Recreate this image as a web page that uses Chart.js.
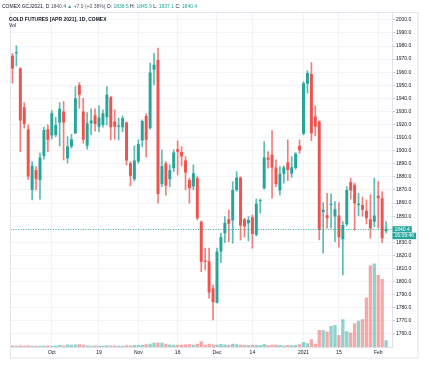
<!DOCTYPE html>
<html>
<head>
<meta charset="utf-8">
<title>GOLD FUTURES [APR 2021], 1D, COMEX</title>
<script src="https://cdn.jsdelivr.net/npm/chart.js@4.4.0/dist/chart.umd.min.js"></script>
<style>
  html, body { margin: 0; padding: 0; background: #fff; }
  #wrap { position: relative; width: 430px; height: 371px; overflow: hidden; }
  #chart { position: absolute; left: 0; top: 0; }
  .hdr { position: absolute; font-family: "Liberation Sans", Arial, sans-serif; font-size: 5px; line-height: 6px; color: #131722; white-space: nowrap; }
  .up { color: #26a69a; }
  .dim { color: #50535e; }
  #line1 { left: 2px; top: 3px; }
  #line2 { left: 9px; top: 16px; font-weight: bold; }
  #line3 { left: 9px; top: 22px; }
</style>
</head>
<body>
<div id="wrap">
  <canvas id="chart" width="430" height="371"></canvas>
  <div class="hdr" id="line1">COMEX:GCJ2021, D <span class="dim">1840.4</span> <span class="up">&#9650;</span> <span class="dim">+7.0 (+0.38%)</span> O: <span class="up">1838.5</span> H: <span class="up">1845.9</span> L: <span class="up">1837.1</span> C: <span class="up">1840.4</span></div>
  <div class="hdr" id="line2">GOLD FUTURES [APR 2021], 1D, COMEX</div>
  <div class="hdr" id="line3">Vol</div>
</div>
<script>
// daily sessions, Sep 17 2020 - Feb 3 2021
const dates = [
  '2020-09-17','2020-09-18','2020-09-21','2020-09-22','2020-09-23','2020-09-24','2020-09-25','2020-09-28','2020-09-29','2020-09-30',
  '2020-10-01','2020-10-02','2020-10-05','2020-10-06','2020-10-07','2020-10-08','2020-10-09','2020-10-12','2020-10-13','2020-10-14',
  '2020-10-15','2020-10-16','2020-10-19','2020-10-20','2020-10-21','2020-10-22','2020-10-23','2020-10-26','2020-10-27','2020-10-28',
  '2020-10-29','2020-10-30','2020-11-02','2020-11-03','2020-11-04','2020-11-05','2020-11-06','2020-11-09','2020-11-10','2020-11-11',
  '2020-11-12','2020-11-13','2020-11-16','2020-11-17','2020-11-18','2020-11-19','2020-11-20','2020-11-23','2020-11-24','2020-11-25',
  '2020-11-27','2020-11-30','2020-12-01','2020-12-02','2020-12-03','2020-12-04','2020-12-07','2020-12-08','2020-12-09','2020-12-10',
  '2020-12-11','2020-12-14','2020-12-15','2020-12-16','2020-12-17','2020-12-18','2020-12-21','2020-12-22','2020-12-23','2020-12-24',
  '2020-12-28','2020-12-29','2020-12-30','2020-12-31','2021-01-04','2021-01-05','2021-01-06','2021-01-07','2021-01-08','2021-01-11',
  '2021-01-12','2021-01-13','2021-01-14','2021-01-15','2021-01-19','2021-01-20','2021-01-21','2021-01-22','2021-01-25','2021-01-26',
  '2021-01-27','2021-01-28','2021-01-29','2021-02-01','2021-02-02','2021-02-03'
];

const open = [
  1972.5,1974.5,1962.8,1933.3,1916.4,1870.0,1885.3,1877.7,1896.0,1916.4,
  1911.6,1912.1,1921.5,1929.9,1894.3,1903.2,1913.4,1950.3,1929.9,1903.7,
  1921.0,1927.1,1918.4,1919.7,1925.6,1940.9,1922.3,1918.4,1918.0,1921.5,
  1890.5,1878.2,1891.7,1907.8,1926.6,1917.2,1961.8,1969.4,1874.6,1890.5,
  1878.2,1886.6,1901.2,1899.1,1892.5,1877.7,1872.6,1879.0,1845.8,1816.0,
  1815.3,1794.9,1783.9,1822.9,1837.0,1847.6,1846.6,1870.0,1879.5,1847.6,
  1844.6,1849.2,1835.7,1861.6,1871.4,1894.8,1897.0,1887.1,1869.5,1882.3,
  1890.9,1882.3,1886.7,1903.7,1912.9,1951.1,1958.7,1926.1,1922.3,1853.2,
  1850.7,1858.6,1849.7,1850.4,1832.3,1843.8,1875.9,1873.9,1858.6,1858.6,
  1854.2,1847.6,1845.8,1865.5,1863.7,1838.5
];
const high = [
  1974.5,1980.1,1963.5,1936.8,1919.7,1891.7,1887.9,1898.1,1918.0,1919.7,
  1930.7,1925.6,1936.8,1937.6,1910.8,1912.6,1949.0,1952.1,1940.1,1929.1,
  1932.0,1932.0,1934.5,1931.2,1949.0,1941.5,1931.2,1924.9,1926.6,1922.0,
  1891.7,1903.7,1908.3,1923.6,1928.2,1966.9,1974.5,1978.4,1900.6,1891.7,
  1889.2,1900.6,1907.5,1903.2,1895.5,1879.0,1889.2,1880.2,1846.5,1825.5,
  1825.5,1797.4,1825.5,1837.0,1849.7,1854.8,1876.4,1884.0,1880.0,1848.4,
  1849.7,1851.0,1863.0,1863.0,1907.0,1899.3,1915.4,1893.0,1887.9,1888.4,
  1908.3,1895.5,1898.6,1908.3,1952.8,1961.3,1967.4,1934.3,1923.0,1860.4,
  1867.5,1867.0,1861.1,1860.4,1845.8,1872.6,1879.0,1875.2,1867.5,1864.5,
  1862.4,1866.2,1879.0,1876.4,1868.8,1845.9
];
const low = [
  1951.6,1964.8,1899.3,1917.2,1878.0,1862.4,1870.0,1863.0,1893.5,1899.3,
  1909.0,1910.8,1903.7,1893.0,1890.5,1901.9,1912.9,1932.5,1905.7,1901.2,
  1912.0,1915.0,1914.5,1918.0,1919.7,1908.3,1908.8,1908.3,1914.6,1889.0,
  1873.1,1877.0,1890.5,1902.9,1895.0,1916.4,1950.3,1859.9,1872.6,1866.0,
  1872.6,1884.0,1881.5,1888.4,1870.0,1859.9,1870.0,1847.1,1807.6,1808.9,
  1787.3,1770.7,1783.5,1814.5,1829.8,1830.5,1829.3,1868.8,1831.8,1833.9,
  1831.0,1825.5,1834.9,1852.3,1870.6,1886.7,1863.7,1872.6,1866.0,1875.2,
  1877.2,1879.7,1885.8,1898.0,1912.1,1944.0,1907.7,1911.3,1831.8,1821.7,
  1840.8,1840.8,1830.5,1826.3,1805.1,1842.5,1863.0,1839.5,1850.2,1849.7,
  1844.1,1833.1,1842.0,1840.8,1829.8,1837.1
];
const close = [
  1962.8,1975.5,1923.0,1920.5,1880.2,1888.6,1878.2,1894.8,1915.9,1908.3,
  1928.7,1919.7,1932.0,1921.5,1903.2,1908.8,1940.1,1942.7,1908.3,1921.0,
  1923.0,1920.5,1925.3,1928.7,1942.7,1918.0,1918.4,1919.2,1924.9,1892.5,
  1880.8,1892.5,1905.2,1922.8,1908.3,1959.7,1965.6,1867.0,1888.4,1873.3,
  1885.3,1898.6,1899.3,1895.5,1883.3,1871.3,1882.8,1848.4,1815.2,1815.0,
  1791.6,1784.2,1822.9,1833.9,1845.0,1844.1,1870.0,1879.5,1842.8,1842.0,
  1847.1,1836.4,1859.4,1862.4,1894.8,1893.0,1887.1,1874.6,1882.3,1887.4,
  1885.3,1887.4,1897.6,1900.1,1951.6,1959.3,1913.4,1918.4,1839.5,1854.8,
  1848.4,1859.4,1855.3,1833.9,1843.3,1870.0,1869.5,1859.9,1859.4,1854.8,
  1848.4,1840.8,1850.4,1863.7,1833.1,1840.4
];
const volume = [
  4200,3800,5200,4100,4900,3900,3600,4000,3700,4400,
  3900,4200,5600,4800,7200,6800,7500,8400,6900,4500,
  3900,4600,4100,3800,5000,4700,4300,3700,4100,5200,
  4800,5600,6300,6800,8500,10000,13000,13500,13000,9500,
  7500,6800,7000,6500,7800,8000,6500,9500,17000,7000,
  10000,7500,7000,9000,7500,7000,10000,8000,7000,6500,
  6000,6500,7000,6000,9000,6000,7000,6500,6000,4500,
  6000,5500,6000,8000,15000,11000,23000,10000,51000,50000,
  46000,63000,66000,36000,83000,47000,43000,71000,78000,83000,
  148000,243000,249000,215000,203000,20000
];

// time axis labels shown under the chart
const timeTickLabels = {
  '2020-10-01': 'Oct', '2020-10-19': '19', '2020-11-02': 'Nov', '2020-11-16': '16',
  '2020-12-01': 'Dec', '2020-12-14': '14', '2021-01-04': '2021', '2021-01-15': '15',
  '2021-02-01': 'Feb'
};
const priceTicks = [
  1760,1770,1780,1790,1800,1810,1820,1830,1840,1850,1860,1870,1880,
  1890,1900,1910,1920,1930,1940,1950,1960,1970,1980,1990,2000
];
const lastPrice = 1840.4;
const countdown = '16:09:46';

const UP = '#26a69a', DOWN = '#ef5350';
const isUp = close.map((c, i) => c >= open[i]);

Chart.defaults.font.family = '"Liberation Sans", Arial, sans-serif';
Chart.defaults.font.size = 5;
Chart.defaults.color = '#131722';

// one empty slot on the right like the chart's right margin
const labels = dates.concat(['']);

const lastPricePlugin = {
  id: 'lastPrice',
  afterDatasetsDraw(chart) {
    const { ctx, chartArea, scales } = chart;
    const y = Math.round(scales.y.getPixelForValue(lastPrice)) + 0.5;
    ctx.save();
    ctx.strokeStyle = 'rgba(38,166,154,0.85)';
    ctx.lineWidth = 1;
    ctx.setLineDash([1, 1.5]);
    ctx.beginPath();
    ctx.moveTo(chartArea.left, y);
    ctx.lineTo(chartArea.right, y);
    ctx.stroke();
    ctx.restore();
  },
  afterDraw(chart) {
    const { ctx, chartArea, scales } = chart;
    const y = scales.y.getPixelForValue(lastPrice);
    const x = chartArea.right + 0.5;
    ctx.save();
    ctx.font = '5px "Liberation Sans", Arial, sans-serif';
    ctx.textBaseline = 'middle';
    const t1 = lastPrice.toFixed(1);
    const w1 = ctx.measureText(t1).width + 4;
    const w2 = ctx.measureText(countdown).width + 4;
    ctx.fillStyle = UP;
    ctx.fillRect(x, y - 2.5, w1, 6);
    ctx.fillRect(x, y + 4, w2, 6.5);
    ctx.fillStyle = '#ffffff';
    ctx.fillText(t1, x + 2, y + 0.6);
    ctx.fillText(countdown, x + 2, y + 7.4);
    // outer frame of the pane
    ctx.strokeStyle = '#e0e3eb';
    ctx.lineWidth = 1;
    ctx.strokeRect(10.5, 12.5, 407.5, 345.5);
    ctx.restore();
  }
};

new Chart(document.getElementById('chart'), {
  type: 'bar',
  data: {
    labels: labels,
    datasets: [
      {
        label: 'Body',
        data: dates.map((d, i) => [open[i], close[i]]),
        backgroundColor: isUp.map(u => u ? UP : DOWN),
        barPercentage: 0.75,
        categoryPercentage: 1,
        grouped: false,
        order: 1,
        yAxisID: 'y'
      },
      {
        label: 'Wick',
        data: dates.map((d, i) => [low[i], high[i]]),
        backgroundColor: isUp.map(u => u ? 'rgba(38,166,154,0.75)' : 'rgba(239,83,80,0.75)'),
        barThickness: 1,
        grouped: false,
        order: 2,
        yAxisID: 'y'
      },
      {
        label: 'Vol',
        data: volume,
        backgroundColor: isUp.map(u => u ? 'rgba(38,166,154,0.5)' : 'rgba(239,83,80,0.5)'),
        barPercentage: 0.85,
        categoryPercentage: 1,
        grouped: false,
        order: 3,
        yAxisID: 'vol'
      }
    ]
  },
  options: {
    responsive: false,
    animation: false,
    layout: { padding: { left: 10.5, top: 12, right: 12, bottom: 13 } },
    plugins: {
      legend: { display: false },
      tooltip: { enabled: false }
    },
    scales: {
      x: {
        type: 'category',
        offset: true,
        grid: { offset: false, color: '#f0f3fa', drawTicks: false },
        border: { color: '#e0e3eb' },
        ticks: {
          autoSkip: false,
          maxRotation: 0,
          padding: 3,
          color: '#131722',
          callback: (v) => timeTickLabels[dates[v]] || ''
        },
        afterBuildTicks: (s) => { s.ticks = s.ticks.filter(t => timeTickLabels[dates[t.value]]); },
        afterFit: (s) => { s.height = 11; }
      },
      y: {
        position: 'right',
        min: 1750,
        max: 2006,
        grid: { color: '#f3f4f8', tickLength: 3, tickColor: '#c8cad1' },
        border: { color: '#e0e3eb' },
        ticks: { padding: 1, color: '#131722', callback: (v) => Number(v).toFixed(1) },
        afterBuildTicks: (s) => { s.ticks = priceTicks.map(v => ({ value: v })); },
        afterFit: (s) => { s.width = 26; }
      },
      vol: {
        display: false,
        min: 0,
        max: 1000000
      }
    }
  },
  plugins: [lastPricePlugin]
});
</script>
</body>
</html>
